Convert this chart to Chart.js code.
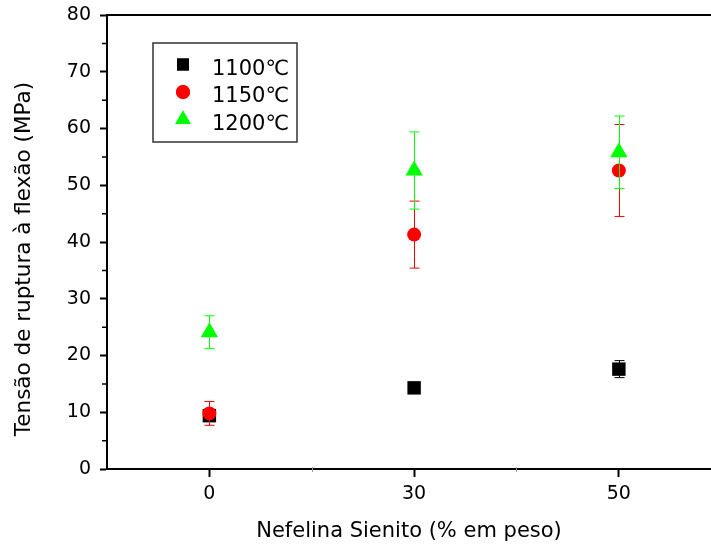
<!DOCTYPE html>
<html><head><meta charset="utf-8">
<script src="https://cdn.jsdelivr.net/npm/chart.js@4/dist/chart.umd.min.js"></script>
<style>html,body{margin:0;padding:0;background:#fff;overflow:hidden}</style>
</head><body>
<canvas id="c" width="711" height="550"></canvas>
<script>
// ---- data ----
const categories = ['0', '30', '50'];
const seriesNames = ['1100℃', '1150℃', '1200℃'];
const values1100 = [9.4, 14.3, 17.6];
const errors1100 = [1.0, 0.8, 1.5];
const values1150 = [9.8, 41.3, 52.6];
const errors1150 = [2.1, 5.9, 8.1];
const values1200 = [24.1, 52.6, 55.8];
const errors1200 = [2.9, 6.8, 6.4];
const yTickValues = [0, 10, 20, 30, 40, 50, 60, 70, 80];
const xTitle = 'Nefelina Sienito (% em peso)';
const yTitle = 'Tensão de ruptura à flexão (MPa)';

const FONT = 'DejaVu Sans';
const colors = ['#000000', '#ff0000', '#00ff00'];
const styles = ['rect', 'circle', 'triangle'];
const radii = [9.5, 7, 10];
const allValues = [values1100, values1150, values1200];
const allErrors = [errors1100, errors1150, errors1200];

const datasets = allValues.map((vals, k) => ({
  label: seriesNames[k],
  data: vals.map((v, i) => ({x: i + 1, y: v})),
  errors: allErrors[k],
  pointStyle: styles[k],
  pointRadius: radii[k],
  backgroundColor: colors[k],
  borderColor: colors[k],
  borderWidth: 0,
  showLine: false,
  order: 3 - k
}));

const deco = {
  id: 'deco',
  beforeDatasetDraw(chart, args) {
    const ds = chart.data.datasets[args.index];
    const {ctx, scales: {x, y}} = chart;
    ctx.save();
    ctx.strokeStyle = ds.borderColor;
    ctx.lineWidth = 1;
    ds.data.forEach((p, i) => {
      const e = ds.errors[i];
      const px = Math.round(x.getPixelForValue(p.x)) + 0.5;
      const y1 = y.getPixelForValue(p.y + e);
      const y2 = y.getPixelForValue(p.y - e);
      ctx.beginPath();
      ctx.moveTo(px, y1); ctx.lineTo(px, y2);
      ctx.moveTo(px - 5, y1); ctx.lineTo(px + 5, y1);
      ctx.moveTo(px - 5, y2); ctx.lineTo(px + 5, y2);
      ctx.stroke();
    });
    ctx.restore();
  },
  afterDraw(chart) {
    const {ctx, chartArea: a, scales: {x, y}} = chart;
    ctx.save();
    ctx.strokeStyle = '#000';
    ctx.lineWidth = 2;
    // top frame line
    ctx.beginPath();
    ctx.moveTo(a.left - 1, a.top); ctx.lineTo(a.right, a.top);
    ctx.stroke();
    // minor ticks on y
    ctx.lineWidth = 1.5;
    ctx.beginPath();
    for (let k = 0; k < yTickValues.length - 1; k++) {
      const v = (yTickValues[k] + yTickValues[k + 1]) / 2;
      const py = y.getPixelForValue(v);
      ctx.moveTo(a.left, py); ctx.lineTo(a.left - 5, py);
    }
    ctx.stroke();
    // faint minor ticks on x
    ctx.strokeStyle = '#999';
    ctx.lineWidth = 1;
    ctx.beginPath();
    for (let i = 1; i < categories.length; i++) {
      const px = Math.round(x.getPixelForValue(i + 0.5)) + 0.5;
      ctx.moveTo(px, a.bottom - 2); ctx.lineTo(px, a.bottom + 3);
    }
    ctx.stroke();
    // legend box
    const bx = 153, by = 43, bw = 144, bh = 99;
    ctx.lineWidth = 1.5;
    ctx.strokeStyle = '#333';
    ctx.strokeRect(bx, by, bw, bh);
    const rows = [64.5, 92, 119.5];
    const lr = [8.5, 7, 9];
    ctx.font = '21px "' + FONT + '"';
    ctx.textBaseline = 'alphabetic';
    ctx.textAlign = 'left';
    chart.data.datasets.forEach((ds, k) => {
      ctx.fillStyle = ds.backgroundColor;
      Chart.helpers.drawPoint(ctx, {pointStyle: ds.pointStyle, radius: lr[k], borderWidth: 0}, 183, rows[k]);
      ctx.fill();
      ctx.fillStyle = '#000';
      ctx.fillText(ds.label, 212, rows[k] + 10);
    });
    ctx.restore();
  }
};

new Chart(document.getElementById('c'), {
  type: 'scatter',
  data: {datasets},
  options: {
    responsive: false,
    animation: false,
    layout: {autoPadding: false, padding: {top: 15, left: 0, right: 0, bottom: 0}},
    plugins: {legend: {display: false}, tooltip: {enabled: false}},
    scales: {
      x: {
        type: 'linear', min: 0.5, max: 3.45,
        afterBuildTicks: s => { s.ticks = categories.map((c, i) => ({value: i + 1})); },
        afterFit: s => { s.height = 81; s.paddingLeft = 0; s.paddingRight = 0; },
        ticks: {
          callback: v => categories[Math.round(v) - 1],
          font: {family: FONT, size: 19}, color: '#000', padding: 6,
          maxRotation: 0, autoSkip: false
        },
        grid: {display: true, drawOnChartArea: false, drawTicks: true, tickLength: 8, tickColor: '#000', tickWidth: 2},
        border: {display: true, color: '#000', width: 2},
        title: {display: true, text: xTitle, font: {family: FONT, size: 21}, color: '#000', padding: {top: 0, bottom: 6}}
      },
      y: {
        type: 'linear', min: 0, max: 80,
        afterBuildTicks: s => { s.ticks = yTickValues.map(v => ({value: v})); },
        afterFit: s => { s.width = 107; s.paddingTop = 0; s.paddingBottom = 0; },
        ticks: {font: {family: FONT, size: 19}, color: '#000', padding: 9},
        grid: {display: true, drawOnChartArea: false, drawTicks: true, tickLength: 7, tickColor: '#000', tickWidth: 2},
        border: {display: true, color: '#000', width: 2},
        title: {display: true, text: yTitle + '     ', font: {family: FONT, size: 21.5}, color: '#000', padding: {top: 12, bottom: 0}}
      }
    }
  },
  plugins: [deco]
});
</script>
</body></html>
